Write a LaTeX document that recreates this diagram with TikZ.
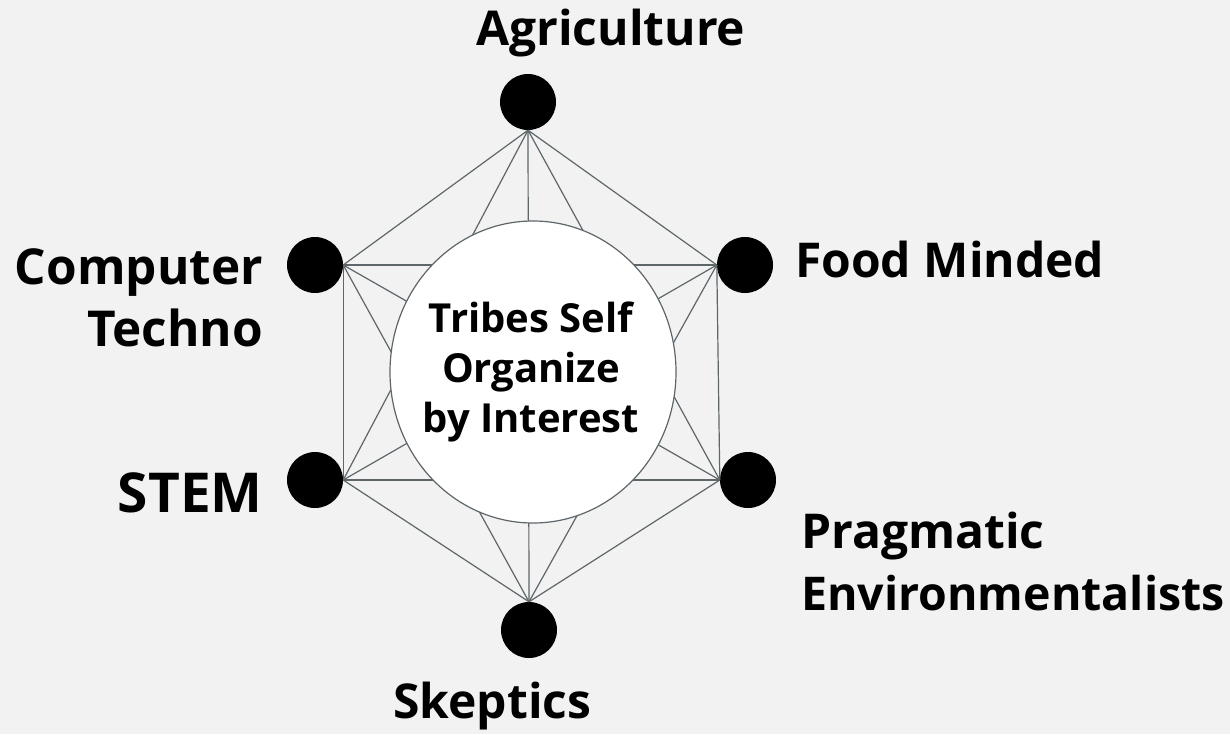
\documentclass[tikz,border=0pt]{standalone}
\usepackage{fontspec}
\setmainfont{Open Sans}
\usetikzlibrary{shapes.geometric}
\definecolor{bg}{HTML}{F2F2F2}
\definecolor{edgegrey}{HTML}{5E666A}
\begin{document}
\begin{tikzpicture}[x=1pt,y=-1pt,
  tribe/.style={circle,fill=black,minimum size=56pt,inner sep=0pt},
  link/.style={draw=edgegrey,line width=1.2pt},
  lab/.style={inner sep=0pt,font=\bfseries\fontsize{48}{56}\selectfont},
  hubstyle/.style={ellipse,fill=white,draw=edgegrey,line width=1.2pt,minimum width=286pt,minimum height=302pt,inner sep=0pt}]
\fill[bg] (0,0) rectangle (1230,734);
\useasboundingbox (0,0) rectangle (1230,734);
% tribe dots
\node[tribe] (agri) at (528,102) {};
\node[tribe] (comp) at (315,265) {};
\node[tribe] (food) at (745,265) {};
\node[tribe] (stem) at (315,480) {};
\node[tribe] (prag) at (748,480) {};
\node[tribe] (skep) at (529,630) {};
% complete graph
\foreach \a/\b in {agri.south/comp.east, agri.south/food.west, agri.south/stem.east, agri.south/prag.west, agri.south/skep.north,
                   comp.east/food.west, comp.east/stem.east, comp.east/prag.west, comp.east/skep.north,
                   food.west/stem.east, food.west/prag.west, food.west/skep.north,
                   stem.east/prag.west, stem.east/skep.north,
                   prag.west/skep.north}
  \draw[link] (\a) -- (\b);
% hub
\node[hubstyle] (hub) at (533,372) {};
\node[lab,font=\bfseries\fontsize{40}{50}\selectfont,align=center] (hubtext) at (531,372) {Tribes Self\\Organize\\by Interest};
% labels
\node[lab,anchor=base west] (lagri) at (476,45) {Agriculture};
\node[lab,anchor=base east,font=\bfseries\fontsize{49.5}{56}\selectfont] (lcomp) at (263,284) {Computer};
\node[lab,anchor=base east,font=\bfseries\fontsize{49.5}{56}\selectfont] (ltech) at (263,346) {Techno};
\node[lab,anchor=base west] (lfood) at (795,277) {Food Minded};
\node[lab,anchor=base east,font=\bfseries\fontsize{55}{60}\selectfont] (lstem) at (263,512) {STEM};
\node[lab,anchor=base west] (lprag) at (801,548) {Pragmatic};
\node[lab,anchor=base west,font=\bfseries\fontsize{46.5}{56}\selectfont] (lenv) at (801,610) {Environmentalists};
\node[lab,anchor=base west] (lskep) at (393,718) {Skeptics};
\end{tikzpicture}
\end{document}
